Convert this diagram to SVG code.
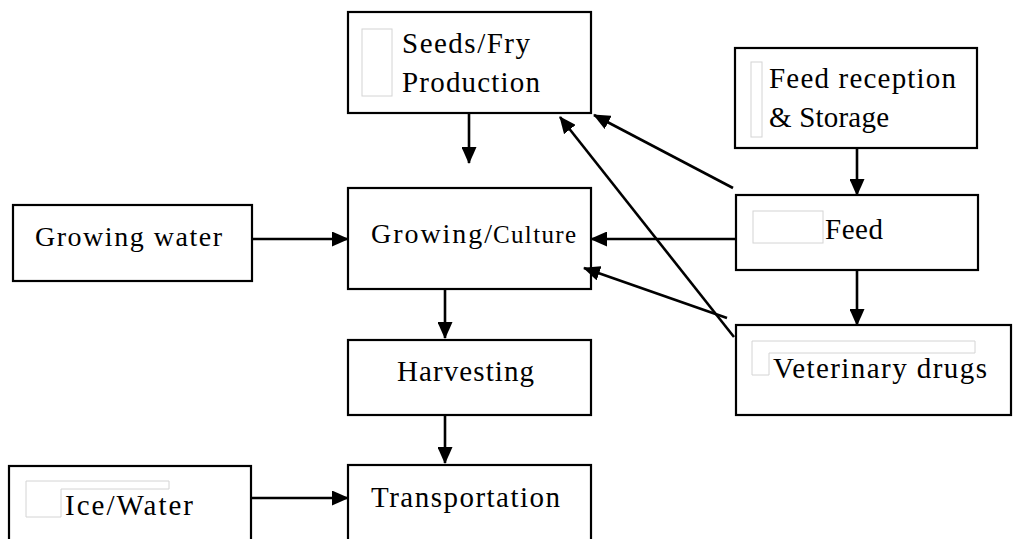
<svg xmlns="http://www.w3.org/2000/svg" width="1013" height="539" viewBox="0 0 1013 539">
  <style>
    .box { fill: #ffffff; stroke: #000000; stroke-width: 2.2; }
    .ghost { fill: none; stroke: #d4d4d4; stroke-width: 1; }
    .lbl { font-family: "Liberation Serif", "Times New Roman", serif; font-size: 29px; fill: #000000; }
    .edge { fill: none; stroke: #000000; stroke-width: 2.6; marker-end: url(#head); }
  </style>
  <defs>
    <marker id="head" markerUnits="userSpaceOnUse" markerWidth="17" markerHeight="15" viewBox="0 0 17 15" refX="16" refY="7.5" orient="auto">
      <path d="M0,0 L17,7.5 L0,15 z" fill="#000000"/>
    </marker>
  </defs>
  <rect width="1013" height="539" fill="#ffffff"/>

  <!-- process boxes -->
  <g id="seeds-fry">
    <rect class="box" x="348" y="12" width="243" height="101"/>
    <rect class="ghost" x="362" y="29" width="30" height="67"/>
    <text class="lbl" x="402" y="53" textLength="128">Seeds/Fry</text>
    <text class="lbl" x="402" y="92" textLength="138">Production</text>
  </g>

  <g id="feed-reception">
    <rect class="box" x="735" y="48" width="242" height="100"/>
    <rect class="ghost" x="751" y="62" width="11" height="75"/>
    <text class="lbl" x="769" y="88" textLength="187">Feed reception</text>
    <text class="lbl" x="769" y="127" textLength="120">&amp; Storage</text>
  </g>

  <g id="growing-water">
    <rect class="box" x="13" y="205" width="239" height="76"/>
    <text class="lbl" x="35" y="246" style="font-size:28px" textLength="187">Growing water</text>
  </g>

  <g id="growing-culture">
    <rect class="box" x="348" y="188" width="243" height="101"/>
    <text class="lbl" x="371" y="243" style="font-size:28px"><tspan textLength="121">Growing/</tspan><tspan x="493" style="font-size:25px" textLength="83">Culture</tspan></text>
  </g>

  <g id="feed">
    <rect class="box" x="736" y="195" width="242" height="75"/>
    <rect class="ghost" x="753" y="211" width="70" height="32"/>
    <text class="lbl" x="825" y="239" textLength="58">Feed</text>
  </g>

  <g id="harvesting">
    <rect class="box" x="348" y="340" width="243" height="75"/>
    <text class="lbl" x="397" y="381" textLength="137">Harvesting</text>
  </g>

  <g id="veterinary-drugs">
    <rect class="box" x="736" y="325" width="275" height="90"/>
    <polygon class="ghost" points="752,341 975,341 975,353 769,353 769,375 752,375"/>
    <text class="lbl" x="773" y="378" textLength="214">Veterinary drugs</text>
  </g>

  <g id="ice-water">
    <rect class="box" x="9" y="466" width="242" height="90"/>
    <polygon class="ghost" points="26,481 169,481 169,489 61,489 61,517 26,517"/>
    <text class="lbl" x="65" y="515" textLength="128">Ice/Water</text>
  </g>

  <g id="transportation">
    <rect class="box" x="348" y="465" width="243" height="90"/>
    <text class="lbl" x="371" y="507" textLength="189">Transportation</text>
  </g>

  <!-- connectors -->
  <g id="connectors">
    <path class="edge" d="M469,113 L469,163"/>
    <path class="edge" d="M857,148 L857,195"/>
    <path class="edge" d="M252,239 L348,239"/>
    <path class="edge" d="M736,239 L591,239"/>
    <path class="edge" d="M857,270 L857,325"/>
    <path class="edge" d="M445,289 L445,338"/>
    <path class="edge" d="M445,415 L445,463"/>
    <path class="edge" d="M251,498 L348,498"/>
    <path class="edge" d="M733,188 L594,115"/>
    <path class="edge" d="M734,337 L560,117"/>
    <path class="edge" d="M727,318 L584,268"/>
  </g>
</svg>
